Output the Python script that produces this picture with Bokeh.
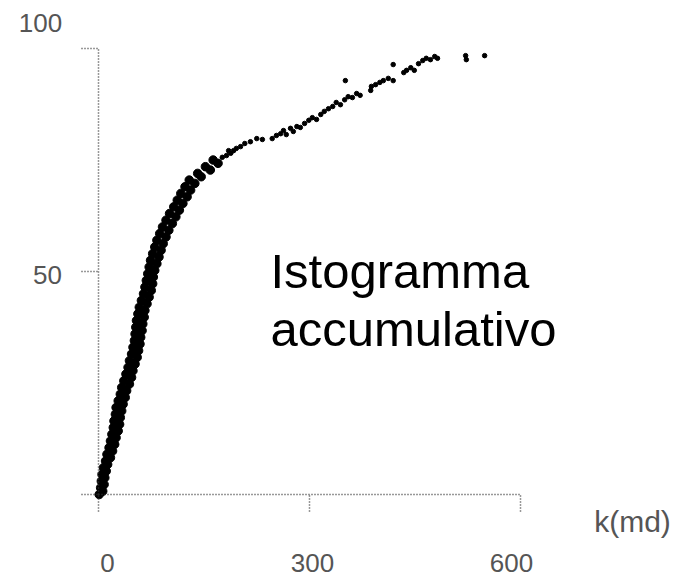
from bokeh.plotting import figure
from bokeh.models import Range1d, FixedTicker, Label
from bokeh.embed import file_html
from bokeh.resources import INLINE

# ---- data ----
# dense lower part of the cumulative curve: permeability k (md) and cumulative %
k_low = [1, 6, 3, 8, 4, 9, 5, 11, 7, 13, 10, 17, 12, 20, 15, 23, 17, 25, 19, 28,
         21, 30, 22, 31, 24, 33, 25, 35, 28, 38, 31, 40, 33, 44, 36, 47, 39, 49, 42, 52,
         44, 55, 47, 57, 49, 59, 51, 60, 52, 62, 53, 63, 54, 65, 56, 66, 58, 69, 61, 72,
         64, 75, 66, 77, 68, 78, 70, 80, 72, 83, 74, 86, 77, 89, 80, 92, 83, 96, 87, 100,
         91, 105, 96, 110, 101, 115, 107, 120, 112, 126, 117, 131, 123, 137, 129, 146, 141, 159, 152, 170,
         163]
pct_low = [0.0, 0.75, 1.5, 2.25, 3.0, 3.75, 4.5, 5.25, 6.0, 6.75, 7.5, 8.25, 9.0, 9.75, 10.5, 11.25,
           12.0, 12.75, 13.5, 14.25, 15.0, 15.75, 16.5, 17.25, 18.0, 18.75, 19.5, 20.25, 21.0, 21.75,
           22.5, 23.25, 24.0, 24.75, 25.5, 26.25, 27.0, 27.75, 28.5, 29.25, 30.0, 30.75, 31.5, 32.25,
           33.0, 33.75, 34.5, 35.25, 36.0, 36.75, 37.5, 38.25, 39.0, 39.75, 40.5, 41.25, 42.0, 42.75,
           43.5, 44.25, 45.0, 45.75, 46.5, 47.25, 48.0, 48.75, 49.5, 50.25, 51.0, 51.75, 52.5, 53.25,
           54.0, 54.75, 55.5, 56.25, 57.0, 57.75, 58.5, 59.25, 60.0, 60.75, 61.5, 62.25, 63.0, 63.75,
           64.5, 65.25, 66.0, 66.75, 67.5, 68.25, 69.0, 69.75, 70.5, 71.25, 72.0, 72.75, 73.5, 74.25,
           75.0]
# sparser upper part
k_high = [176, 182, 188, 185, 192, 196, 202, 208, 216, 225, 233, 247, 253, 259, 263, 267, 273,
          277, 282, 287, 293, 299, 304, 310, 316, 321, 327, 333, 338, 344, 350, 355, 361, 351,
          367, 372, 387, 388, 394, 400, 405, 412, 419, 419, 434, 438, 444, 449, 455, 461, 466,
          472, 478, 482, 522, 523, 549]
pct_high = [75.6, 76.0, 76.5, 77.1, 77.1, 77.6, 78.0, 78.7, 79.1, 79.8, 79.6, 79.8, 80.5, 80.9,
            81.6, 80.7, 82.1, 81.4, 82.5, 82.3, 83.2, 83.9, 84.5, 84.1, 85.2, 85.9, 86.5, 87.0,
            87.9, 87.4, 88.5, 89.2, 89.0, 92.8, 89.9, 89.5, 90.6, 91.5, 91.9, 92.4, 92.8, 93.3,
            92.8, 96.4, 94.6, 95.1, 95.7, 95.1, 96.6, 97.3, 97.8, 97.5, 98.2, 97.8, 98.4, 97.5, 98.4]

x_ticks = [0, 300, 600]
y_ticks = [0, 50, 100]
x_tick_labels = ["0", "300", "600"]
y_tick_labels = ["0", "50", "100"]
x_title = "k(md)"
title_lines = ["Istogramma", "accumulativo"]

# ---- figure: the frame fills the page; axes sit at data 0 ----
sx = 600 / 422.0   # md per pixel
sy = 100 / 446.0   # % per pixel
p = figure(width=681, height=577, output_backend="svg", toolbar_location=None,
           x_range=Range1d(-98 * sx, 583 * sx), y_range=Range1d(-83 * sy, 494 * sy),
           min_border=0, min_border_left=0, min_border_right=0,
           min_border_top=0, min_border_bottom=0)
p.outline_line_color = None
p.xgrid.visible = False
p.ygrid.visible = False
p.background_fill_color = "white"
p.border_fill_color = "white"

for ax, ticks in ((p.xaxis, x_ticks), (p.yaxis, y_ticks)):
    ax.fixed_location = 0
    ax.bounds = (ticks[0], ticks[-1])
    ax.ticker = FixedTicker(ticks=ticks)
    ax.axis_line_dash = "1 2"
    ax.axis_line_width = 1.5
    ax.axis_line_color = "#333333"
    ax.major_tick_line_dash = "1 2"
    ax.major_tick_line_width = 1.5
    ax.major_tick_line_color = "#333333"
    ax.major_tick_out = 17
    ax.major_tick_in = 0
    ax.minor_tick_line_color = None
    ax.major_label_text_font_size = "0px"
    ax.major_label_text_color = None

p.scatter(k_low, pct_low, size=8.5, color="black", marker="circle")
p.scatter(k_high, pct_high, size=4.5, color="black", marker="circle")

num_style = dict(text_font="Liberation Sans", text_font_size="26px", text_color="#555555",
                 text_align="center", text_baseline="middle")
# y tick labels (100 sits above-left of its tick in the reference)
p.add_layout(Label(x=-58 * sx, y=472 * sy, text=y_tick_labels[2], **num_style))
p.add_layout(Label(x=-51 * sx, y=220 * sy, text=y_tick_labels[1], **num_style))
# x tick labels
p.add_layout(Label(x=9 * sx, y=-68 * sy, text=x_tick_labels[0], **num_style))
p.add_layout(Label(x=214 * sx, y=-68 * sy, text=x_tick_labels[1], **num_style))
p.add_layout(Label(x=413 * sx, y=-68 * sy, text=x_tick_labels[2], **num_style))
p.add_layout(Label(x=534 * sx, y=-27 * sy, text=x_title, text_font="Liberation Sans",
                   text_font_size="30px", text_color="#555555",
                   text_align="center", text_baseline="middle"))

big = dict(text_font="Liberation Sans", text_font_size="49px", text_color="black",
           text_align="left", text_baseline="alphabetic")
p.add_layout(Label(x=172 * sx, y=224 * sy, text=title_lines[0], **big))
p.add_layout(Label(x=172 * sx, y=166 * sy, text=title_lines[1], **big))

open("out.html", "w").write(file_html(p, INLINE))
